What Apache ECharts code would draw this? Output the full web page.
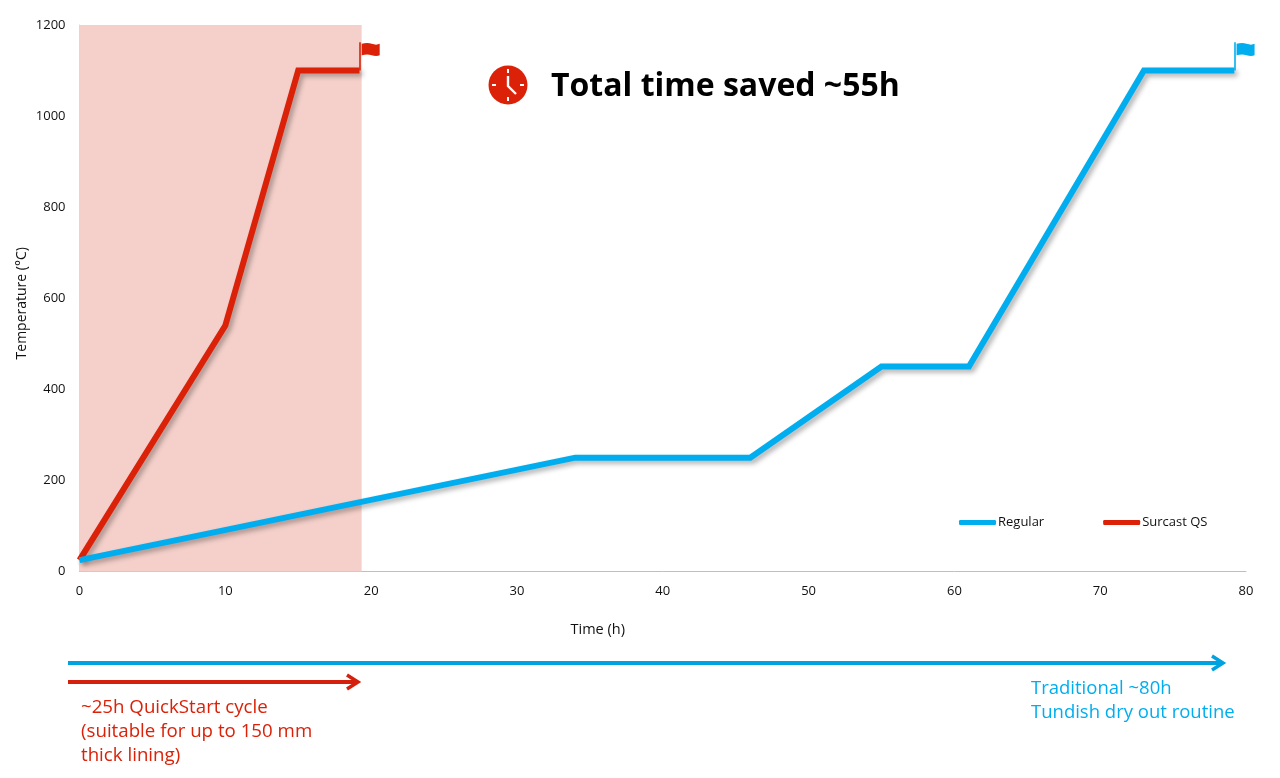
<!DOCTYPE html>
<html>
<head>
<meta charset="utf-8">
<title>Tundish dry out</title>
<style>
html, body { margin: 0; padding: 0; background: #fff; }
#main { width: 1280px; height: 778px; }
</style>
<script src="https://cdn.jsdelivr.net/npm/echarts@6/dist/echarts.min.js"></script>
</head>
<body>
<div id="main"></div>
<script>
var regular = [[0, 25], [34, 250], [46, 250], [55, 450], [61, 450], [73, 1100], [79.2, 1100]];
var surcast = [[0, 25], [10, 540], [15, 1100], [19.2, 1100]];
var savedBand = [0, 19.35];
var regularFlag = { x: 79.2, from: 1100, to: 1162, center: [79.97, 1146] };
var surcastFlag = { x: 19.2, from: 1100, to: 1162, center: [19.97, 1146] };

var RED = '#DB2108';
var BLUE = '#00AEEF';
var FONT = '"Open Sans", "Noto Sans", sans-serif';
var FLAG_PATH = 'path://M0,1 C4,0 7,0 10,1 C13,2 16,2 18,1 L18,12 C16,13 13,13 10,12 C7,11 4,11 0,12 Z';

function flagMarks(flag, color)
{
    return {
        markLine: {
            silent: true,
            symbol: 'none',
            animation: false,
            label: { show: false },
            lineStyle: { color: color, width: 1.6, type: 'solid', shadowBlur: 0, shadowOffsetX: 0, shadowOffsetY: 0 },
            data: [[{ coord: [flag.x, flag.from] }, { coord: [flag.x, flag.to] }]]
        },
        markPoint: {
            silent: true,
            animation: false,
            symbol: FLAG_PATH,
            symbolSize: [18, 13],
            label: { show: false },
            itemStyle: { color: color },
            data: [{ coord: flag.center }]
        }
    };
}

function lineSeries(name, data, color, flag)
{
    var s = {
        name: name,
        type: 'line',
        data: data,
        showSymbol: false,
        symbol: 'none',
        clip: false,
        animation: false,
        lineStyle: {
            color: color,
            width: 6,
            join: 'miter',
            cap: 'butt',
            shadowColor: 'rgba(0,0,0,0.3)',
            shadowBlur: 5,
            shadowOffsetX: 3,
            shadowOffsetY: 3
        },
        itemStyle: { color: color }
    };
    var marks = flagMarks(flag, color);
    s.markLine = marks.markLine;
    s.markPoint = marks.markPoint;
    return s;
}

var redSeries = lineSeries('Surcast QS', surcast, RED, surcastFlag);
redSeries.markArea = {
    silent: true,
    animation: false,
    itemStyle: { color: '#F5D0CA' },
    data: [[{ coord: [savedBand[0], 0] }, { coord: [savedBand[1], 1200] }]]
};

function arrow(x1, x2, y, color)
{
    return {
        type: 'group',
        children: [
            { type: 'line', shape: { x1: x1, y1: y, x2: x2 - 3, y2: y }, style: { stroke: color, lineWidth: 4 } },
            { type: 'polyline', shape: { points: [[x2 - 14, y - 7], [x2 - 3, y], [x2 - 14, y + 7]] }, style: { stroke: color, lineWidth: 3.5, fill: null } }
        ]
    };
}

function note(x, y, text, color, size)
{
    return { type: 'text', x: x, y: y, style: { text: text, fill: color, font: size + 'px ' + FONT, textVerticalAlign: 'middle' } };
}

var clock = {
    type: 'group',
    x: 508,
    y: 85,
    children: [
        { type: 'circle', shape: { cx: 0, cy: 0, r: 19.5 }, style: { fill: RED } },
        { type: 'line', shape: { x1: 0, y1: -16, x2: 0, y2: -12 }, style: { stroke: '#fff', lineWidth: 2 } },
        { type: 'line', shape: { x1: 0, y1: 12, x2: 0, y2: 16 }, style: { stroke: '#fff', lineWidth: 2 } },
        { type: 'line', shape: { x1: -16, y1: 0, x2: -12, y2: 0 }, style: { stroke: '#fff', lineWidth: 2 } },
        { type: 'line', shape: { x1: 12, y1: 0, x2: 16, y2: 0 }, style: { stroke: '#fff', lineWidth: 2 } },
        { type: 'polyline', shape: { points: [[0, -9], [0, 1], [8, 9]] }, style: { stroke: '#fff', lineWidth: 2.4, fill: null } }
    ]
};

var myChart = echarts.init(document.getElementById('main'));
var option = {
    backgroundColor: '#fff',
    animation: false,
    textStyle: { fontFamily: FONT },
    grid: { left: 79.5, right: 34, top: 25, bottom: 206.5 },
    legend: {
        left: 954,
        top: 511,
        icon: 'roundRect',
        itemWidth: 37,
        itemHeight: 5,
        itemGap: 59,
        data: ['Regular', 'Surcast QS'],
        textStyle: { fontSize: 13, color: '#111', fontFamily: FONT, padding: [0, 0, 0, -3] }
    },
    xAxis: {
        type: 'value',
        min: 0,
        max: 80,
        interval: 10,
        name: 'Time (h)',
        nameLocation: 'middle',
        nameGap: 51,
        nameTextStyle: { fontSize: 14.5, color: '#111', padding: [0, 130, 0, 0] },
        axisLine: { show: true, onZero: false, lineStyle: { color: '#BFBFBF', width: 1 } },
        axisTick: { show: false },
        splitLine: { show: false },
        axisLabel: { fontSize: 13, color: '#111', margin: 13, showMaxLabel: true, showMinLabel: true }
    },
    yAxis: {
        type: 'value',
        min: 0,
        max: 1200,
        interval: 200,
        name: 'Temperature (°C)',
        nameLocation: 'middle',
        nameGap: 50,
        nameMoveOverlap: false,
        nameTextStyle: { fontSize: 14, color: '#111', padding: [0, 10, 0, 0] },
        axisLine: { show: true, lineStyle: { color: '#D9D9D9', width: 1 } },
        axisTick: { show: false },
        splitLine: { show: false },
        axisLabel: { fontSize: 13, color: '#111', margin: 14, formatter: function (v) { return String(v); } }
    },
    series: [redSeries, lineSeries('Regular', regular, BLUE, regularFlag)],
    graphic: [
        clock,
        { type: 'text', x: 551, y: 87, style: { text: 'Total time saved ~55h', fill: '#000', font: 'bold 32px ' + FONT, textVerticalAlign: 'middle' } },
        arrow(68, 1226, 663, '#00A3E0'),
        arrow(68, 361, 682, '#D4200C'),
        note(81, 708, '~25h QuickStart cycle', RED, 18.7),
        note(81, 732, '(suitable for up to 150 mm', RED, 18.7),
        note(81, 756, 'thick lining)', RED, 18.7),
        note(1031, 688.5, 'Traditional ~80h', BLUE, 18.5),
        note(1031, 712.5, 'Tundish dry out routine', BLUE, 18.5)
    ]
};
myChart.setOption(option);
</script>
</body>
</html>
